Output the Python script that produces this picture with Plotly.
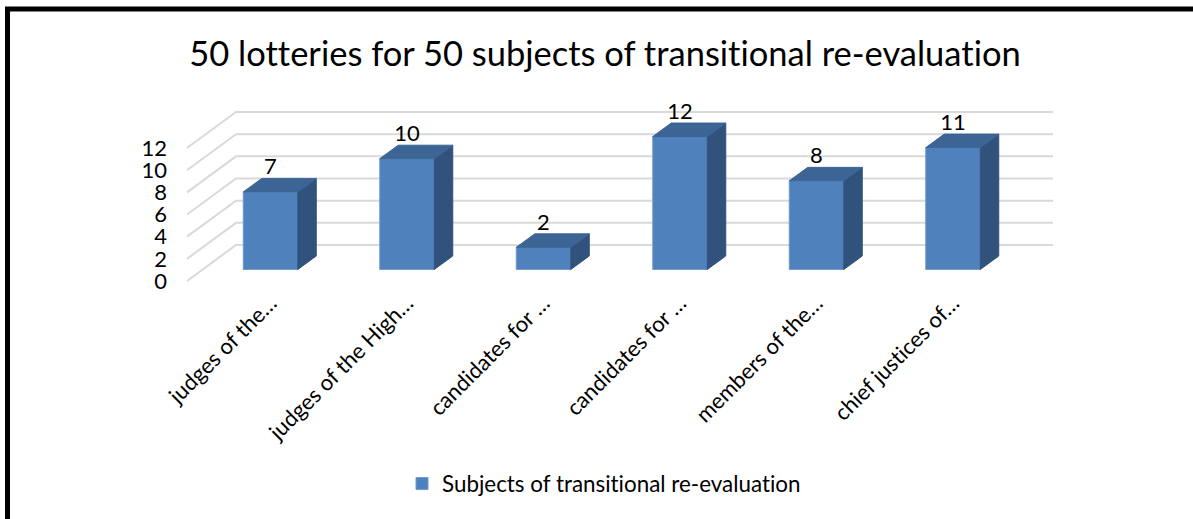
import plotly.graph_objects as go

TITLE = "50 lotteries for 50 subjects of transitional re-evaluation"
SERIES_NAME = "Subjects of transitional re-evaluation"
categories = ["judges of the…", "judges of the High…", "candidates for …",
              "candidates for …", "members of the…", "chief justices of…"]
values = [7, 10, 2, 12, 8, 11]
grid_ticks = [0, 2, 4, 6, 8, 10, 12]

FONT = "Lato"
W, H = 1193, 519
L, R, T, B = 168, 93, 100, 234
PW, PH = W - L - R, H - T - B
PITCH, UNIT = 136.5, 11.08
BAR_W = 54.5 / PITCH
DX, DY = 18.5 / PITCH, 13.5 / UNIT
x0_px, y_axis0_px, y_bar0_px = 270.5, 281.0, 269.5
x_range = [(L - x0_px) / PITCH, (L + PW - x0_px) / PITCH]
y_range = [(y_axis0_px - T - PH) / UNIT, (y_axis0_px - T) / UNIT]
y2_range = [(y_bar0_px - T - PH) / UNIT, (y_bar0_px - T) / UNIT]
GRID_FRONT, GRID_BACK, GRID_END = (187 - x0_px) / PITCH, (236 - x0_px) / PITCH, (1053 - x0_px) / PITCH
GRID_RISE = 36 / UNIT
LABEL_RISE = 23 / UNIT

FRONT, SIDE, TOP, GRID = "#4F81BD", "#30527D", "#3C6494", "#D9D9D9"

xs = list(range(len(categories)))
fig = go.Figure()

# walls: gridlines are placed on the axis scale
gx, gy = [], []
for t in grid_ticks:
    gx += [GRID_FRONT, GRID_BACK, GRID_END, None]
    gy += [t, t + GRID_RISE, t + GRID_RISE, None]
fig.add_trace(go.Scatter(x=gx, y=gy, mode="lines", line=dict(color=GRID, width=2),
                         hoverinfo="skip", showlegend=False))

fig.add_trace(go.Bar(x=xs, y=values, width=BAR_W, name=SERIES_NAME, yaxis="y2",
                     marker=dict(color=FRONT, line=dict(color="#6F9BD0", width=1))))

sx, sy, tx, ty = [], [], [], []
for c, v in zip(xs, values):
    a, b = c - BAR_W / 2, c + BAR_W / 2
    sx += [b, b + DX, b + DX, b, b, None]
    sy += [0, DY, v + DY, v, 0, None]
    tx += [a, a + DX, b + DX, b, a, None]
    ty += [v, v + DY, v + DY, v, v, None]
fig.add_trace(go.Scatter(x=sx, y=sy, yaxis="y2", mode="lines", fill="toself", fillcolor=SIDE,
                         line=dict(color=SIDE, width=1), hoverinfo="skip", showlegend=False))
fig.add_trace(go.Scatter(x=tx, y=ty, yaxis="y2", mode="lines", fill="toself", fillcolor=TOP,
                         line=dict(color=TOP, width=1), hoverinfo="skip", showlegend=False))
fig.add_trace(go.Scatter(x=xs, y=[v + LABEL_RISE for v in values], yaxis="y2", mode="text",
                         text=[str(v) for v in values], textposition="middle center",
                         textfont=dict(family=FONT, size=22, color="#000000"),
                         hoverinfo="skip", showlegend=False))


def px(x):
    return (x - L) / PW


def py(y):
    return (H - B - y) / PH


frame = dict(color="#000000", width=5)
shapes = [
    dict(type="line", xref="paper", yref="paper", x0=px(7.5), x1=px(7.5), y0=py(7), y1=py(H), line=frame),
    dict(type="line", xref="paper", yref="paper", x0=px(5), x1=px(W), y0=py(9), y1=py(9), line=frame),
]

fig.update_layout(
    width=W, height=H, margin=dict(l=L, r=R, t=T, b=B),
    paper_bgcolor="white", plot_bgcolor="white",
    font=dict(family=FONT, color="#000000"),
    title=dict(text=TITLE, x=605 / W, xanchor="center", y=1 - 54 / H, yanchor="middle",
               font=dict(family=FONT, size=34.5, color="#000000")),
    xaxis=dict(range=x_range, tickmode="array", tickvals=xs, ticktext=categories, tickangle=-45,
               showgrid=False, zeroline=False, showline=False, ticks="",
               tickfont=dict(family=FONT, size=22)),
    yaxis=dict(range=y_range, tickmode="array", tickvals=grid_ticks, showgrid=False, zeroline=False,
               showline=False, ticks="", tickfont=dict(family=FONT, size=22)),
    yaxis2=dict(range=y2_range, overlaying="y", visible=False),
    legend=dict(x=px(402), y=py(484), xanchor="left", yanchor="middle", orientation="h",
                bgcolor="rgba(0,0,0,0)", font=dict(family=FONT, size=22.4)),
    shapes=shapes, showlegend=True,
)

fig.write_html("out.html", config=dict(displayModeBar=False),
               post_script="document.body.style.margin='0';document.body.style.overflow='hidden';"
                           "var s=document.createElement('style');"
                           "s.textContent='text{font-feature-settings:\"liga\" 0,\"clig\" 0 !important;"
                           "font-variant-ligatures:none !important}';"
                           "document.head.appendChild(s);")
